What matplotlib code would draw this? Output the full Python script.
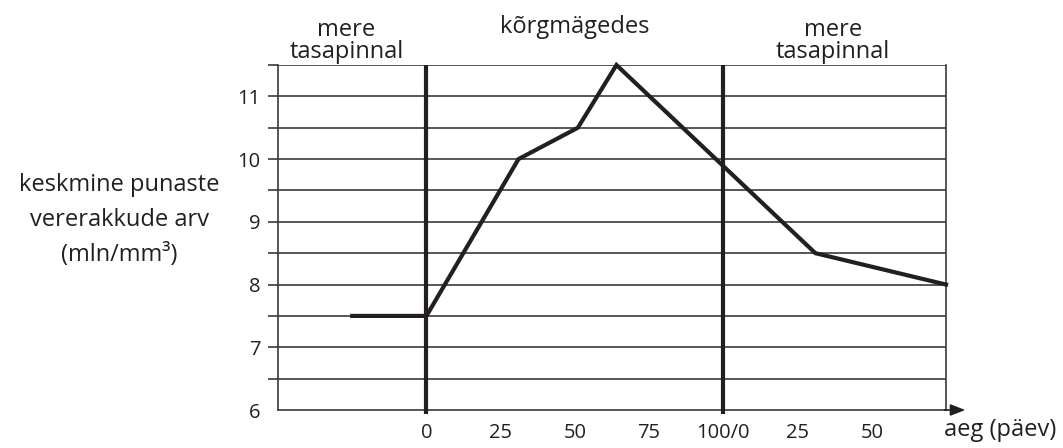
import matplotlib
matplotlib.use("Agg")
import matplotlib.pyplot as plt

plt.rcParams['font.family'] = ['Open Sans', 'DejaVu Sans']

# continuous day axis: first phase 0..100 at altitude, then 100..175 = 0..75 back at sea level
days = [-25, 0, 31, 51, 64, 131, 175]
rbc = [7.5, 7.5, 10.0, 10.5, 11.5, 8.5, 8.0]

xtick_pos = [0, 25, 50, 75, 100, 125, 150]
xtick_lab = ['0', '25', '50', '75', '100/0', '25', '50']
ytick_major = [6, 7, 8, 9, 10, 11]
ygrid = [6.5, 7, 7.5, 8, 8.5, 9, 9.5, 10, 10.5, 11, 11.5]
phase_bounds = [0, 100]

phase_labels = ['mere\ntasapinnal', 'kõrgmägedes', 'mere\ntasapinnal']
phase_x = [-27, 50, 137]

ink = '#231f20'
grid_c = '#3a3a3a'

fig = plt.figure(figsize=(10.63, 4.48), dpi=100)
ax = fig.add_axes([278 / 1063, 38 / 448, 668 / 1063, 345 / 448])
ax.set_xlim(-50, 175)
ax.set_ylim(6, 11.5)

for y in ygrid:
    ax.axhline(y, color=grid_c, lw=1.2, zorder=1)

for s in ['left', 'bottom', 'right']:
    ax.spines[s].set_color(grid_c)
    ax.spines[s].set_linewidth(1.2)
ax.spines['top'].set_visible(False)

ax.set_yticks(ytick_major)
ax.set_yticks([v for v in ygrid if v not in ytick_major], minor=True)
ax.tick_params(axis='y', which='both', direction='out', length=7.5, width=1.2,
               color=grid_c, pad=5, labelsize=14.5, labelcolor=ink)
ax.yaxis.get_major_ticks()[0].tick1line.set_visible(False)

ax.set_xticks(xtick_pos)
ax.set_xticklabels(xtick_lab)
ax.tick_params(axis='x', length=0, pad=9, labelsize=14.5, labelcolor=ink)

for xb in phase_bounds:
    ax.plot([xb, xb], [5.94, 11.5], color=ink, lw=3, clip_on=False, zorder=3,
            solid_capstyle='butt')

ax.plot(days, rbc, color=ink, lw=3, zorder=4, clip_on=False, solid_joinstyle='miter')

ax.annotate('', xy=(181.5, 6), xytext=(174.5, 6), xycoords='data',
            arrowprops=dict(arrowstyle='-|>,head_length=0.9,head_width=0.35',
                            color=ink, lw=1.2, shrinkA=0, shrinkB=0),
            annotation_clip=False)
fig.text(1000 / 1063, 6 / 448, 'aeg (päev)', ha='center', va='bottom',
         fontsize=17, color=ink)

for lab, xp in zip(phase_labels, phase_x):
    if '\n' in lab:
        ax.text(xp, 1.004, lab, transform=ax.get_xaxis_transform(), ha='center',
                va='bottom', fontsize=17, color=ink, linespacing=0.85)
    else:
        ax.text(xp, (410 - 33) / 345, lab, transform=ax.get_xaxis_transform(),
                ha='center', va='baseline', fontsize=17, color=ink)

fig.text(119 / 1063, (448 - 220) / 448, 'keskmine punaste\nvererakkude arv\n(mln/mm³)',
         ha='center', va='center', multialignment='center', fontsize=17,
         color=ink, linespacing=1.6)

fig.savefig('out.png', dpi=100, facecolor='white')
